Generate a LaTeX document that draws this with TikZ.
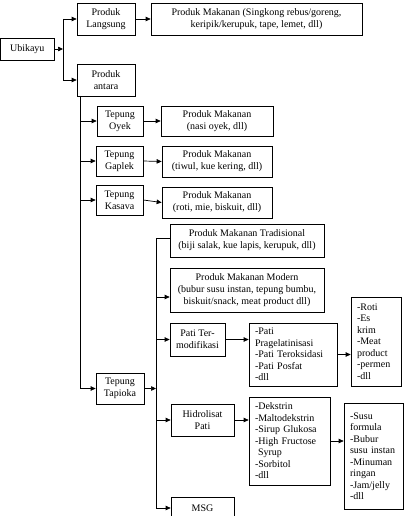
\documentclass[tikz,border=0pt]{standalone}
\usepackage{fontspec}
\setmainfont{Liberation Serif}
\usetikzlibrary{arrows.meta}
\begin{document}
\begin{tikzpicture}[x=1pt,y=-1pt,
  line width=0.7pt,
  box/.style={draw, inner sep=0pt, align=center,
    font=\fontsize{10}{12}\selectfont},
  listbox/.style={draw, inner xsep=6pt, inner ysep=0pt, align=left,
    font=\fontsize{10}{11.5}\selectfont},
  arr/.style={-{Triangle[length=5pt,width=4.5pt]}}]
\useasboundingbox (0,0) rectangle (404,516);

% first level
\node[box, minimum width=53.5pt, minimum height=22pt] (ubi) at (27.25,49) {Ubikayu};
\node[box, minimum width=58pt, minimum height=32pt] (langsung) at (106,19) {Produk\\Langsung};
\node[box, minimum width=211pt, minimum height=32pt] (mak1) at (256.5,19)
  {Produk Makanan (Singkong rebus/goreng,\\keripik/kerupuk, tape, lemet, dll)};
\node[box, minimum width=58pt, minimum height=32pt] (antara) at (106,80) {Produk\\antara};

% flours
\node[box, minimum width=46pt, minimum height=30pt] (oyek) at (120,121) {Tepung\\Oyek};
\node[box, minimum width=112pt, minimum height=30pt] (mak2) at (217,121) {Produk Makanan\\(nasi oyek, dll)};
\node[box, minimum width=47pt, minimum height=30pt] (gaplek) at (119.5,161) {Tepung\\Gaplek};
\node[box, minimum width=110pt, minimum height=31pt] (mak3) at (217,161.5) {Produk Makanan\\(tiwul, kue kering, dll)};
\node[box, minimum width=47pt, minimum height=30pt] (kasava) at (119.5,200) {Tepung\\Kasava};
\node[box, minimum width=110pt, minimum height=31pt] (mak4) at (217,202.5) {Produk Makanan\\(roti, mie, biskuit, dll)};
\node[box, minimum width=48pt, minimum height=31pt] (tapioka) at (120,388.5) {Tepung\\Tapioka};

% tapioca products
\node[box, minimum width=154pt, minimum height=33pt] (trad) at (247,240.5)
  {Produk Makanan Tradisional\\(biji salak, kue lapis, kerupuk, dll)};
\node[box, minimum width=154pt, minimum height=44pt] (modern) at (247,290)
  {Produk Makanan Modern\\(bubur susu instan, tepung bumbu,\\biskuit/snack, meat product dll)};
\node[box, minimum width=55pt, minimum height=33pt] (patim) at (197.5,339.5) {Pati Ter-\\modifikasi};
\node[listbox, text width=76pt, minimum height=63pt] (patil) at (293,354.5)
  {-Pati\\Pragelatinisasi\\-Pati Teroksidasi\\-Pati Posfat\\-dll};
\node[listbox, text width=38pt, minimum height=89pt] (roti) at (376,341.5)
  {-Roti\\-Es\\krim\\-Meat\\product\\-permen\\-dll};
\node[box, minimum width=63pt, minimum height=32pt] (hidro) at (202.5,420) {Hidrolisat\\Pati};
\node[listbox, text width=69pt, minimum height=88pt] (hidrol) at (289.5,441)
  {-Dekstrin\\-Maltodekstrin\\-Sirup Glukosa\\-High Fructose\\\hspace*{0.3em}Syrup\\-Sorbitol\\-dll};
\node[listbox, text width=47.5pt, minimum height=106pt] (susu) at (373.75,456)
  {-Susu\\formula\\-Bubur\\susu instan\\-Minuman\\ringan\\-Jam/jelly\\-dll};
\node[box, minimum width=63pt, minimum height=22pt] (msg) at (202.5,508) {MSG};

% branch points
\coordinate (j1) at (63,49);
\coordinate (t1) at (80,96);
\coordinate (t2) at (156,238);
\coordinate (t2b) at (156,508);
\coordinate (mj) at (156,297);

% Ubikayu splits
\draw[arr] (ubi.east) -- (j1);
\draw (j1 |- langsung.west) -- (j1 |- antara.west);
\draw[arr] (j1 |- langsung.west) -- (langsung.west);
\draw[arr] (j1 |- antara.west) -- (antara.west);
\draw[arr] (langsung.east) -- (mak1.west);

% intermediate products trunk
\draw[arr] (t1) -- (t1 |- tapioka.west) -- (tapioka.west);
\draw[arr] (t1 |- oyek.west) -- (oyek.west);
\draw[arr] (t1 |- gaplek.west) -- (gaplek.west);
\draw[arr] (t1 |- kasava.west) -- (kasava.west);
\draw[arr] (oyek.east) -- (mak2.west);
\draw[arr] (gaplek.east) -- (mak3.west);
\draw[arr] (kasava.east) -- (mak4.west);

% tapioca trunk
\draw[arr] (tapioka.east) -- (t2 |- tapioka.east);
\draw[arr] (t2 -| trad.west) -- (t2) -- (t2b) -- (t2b -| msg.west);
\draw[arr] (mj) -- (mj -| modern.west);
\draw[arr] (t2 |- patim.west) -- (patim.west);
\draw[arr] (t2 |- hidro.west) -- (hidro.west);

% follow-on products
\draw[arr] (patim.east) -- (patim.east -| patil.west);
\draw[arr] (patil.east) -- (patil.east -| roti.west);
\draw[arr] (hidro.east) -- (hidro.east -| hidrol.west);
\draw[arr] (hidrol.east) -- (hidrol.east -| susu.west);
\end{tikzpicture}
\end{document}
